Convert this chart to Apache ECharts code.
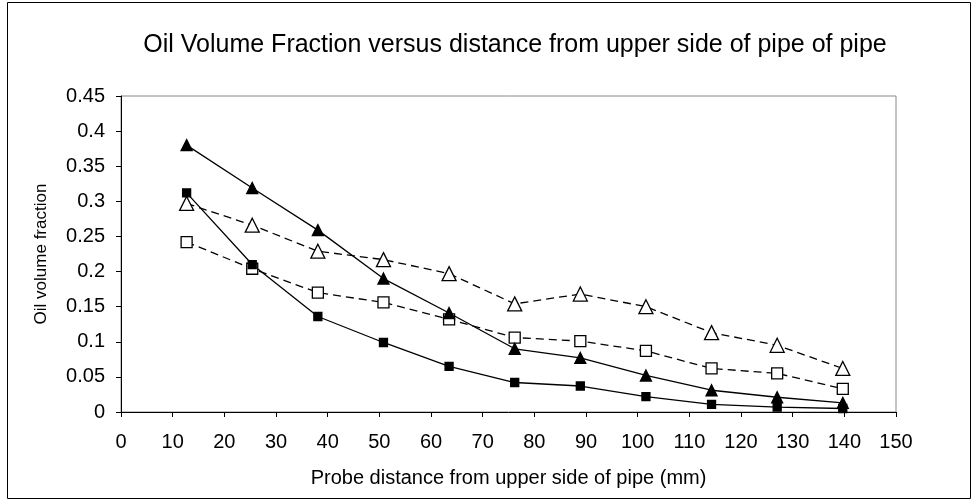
<!DOCTYPE html>
<html>
<head>
<meta charset="utf-8">
<script src="https://cdn.jsdelivr.net/npm/echarts@6/dist/echarts.min.js"></script>
<style>
  html, body { margin: 0; padding: 0; background: #fff; }
  #chart { width: 979px; height: 501px; }
</style>
</head>
<body>
<div id="chart"></div>
<script>
// probe positions (mm)
const distance = [12.7, 25.4, 38.1, 50.8, 63.5, 76.2, 88.9, 101.6, 114.3, 127, 139.7];

// oil volume fraction per series
const solidTriangle = [0.38, 0.319, 0.259, 0.19, 0.141, 0.09, 0.077, 0.052, 0.031, 0.021, 0.013];
const solidSquare = [0.312, 0.21, 0.136, 0.099, 0.065, 0.042, 0.037, 0.022, 0.011, 0.007, 0.005];
const openTriangle = [0.297, 0.266, 0.229, 0.217, 0.197, 0.154, 0.168, 0.15, 0.113, 0.095, 0.062];
const openSquare = [0.242, 0.204, 0.17, 0.156, 0.132, 0.106, 0.101, 0.087, 0.062, 0.055, 0.033];

const pairs = vals => distance.map((d, i) => [d, vals[i]]);

const chart = echarts.init(document.getElementById('chart'));

const makeSeries = (vals, symbol, size, filled, dashed) => ({
  type: 'line',
  data: pairs(vals),
  symbol: symbol,
  symbolSize: size,
  showAllSymbol: true,
  lineStyle: { color: '#000', width: 1.3, type: dashed ? [8, 5] : 'solid' },
  itemStyle: { color: filled ? '#000' : '#fff', borderColor: '#000', borderWidth: 1.3 },
  emphasis: { disabled: true },
  animation: false
});

const font = 'Liberation Sans';

const option = {
  backgroundColor: '#fff',
  title: {
    text: 'Oil Volume Fraction versus distance from upper side of pipe of pipe',
    left: 510,
    top: 28,
    textAlign: 'center',
    textStyle: { fontFamily: font, fontSize: 25, fontWeight: 'normal', color: '#000' }
  },
  graphic: [{
    type: 'rect',
    shape: { x: 7.5, y: 2.5, width: 963, height: 496 },
    style: { fill: 'none', stroke: '#000', lineWidth: 1 },
    silent: true
  }],
  grid: {
    left: 121, top: 96, right: 83, bottom: 89,
    show: true, borderColor: '#888', borderWidth: 1
  },
  xAxis: {
    type: 'value',
    min: 0, max: 150, interval: 10,
    name: 'Probe distance from upper side of pipe (mm)',
    nameLocation: 'middle',
    nameGap: 56,
    nameTextStyle: { fontFamily: font, fontSize: 20, color: '#000' },
    axisLine: { lineStyle: { color: '#000', width: 1 } },
    axisTick: { length: 5, lineStyle: { color: '#000' } },
    axisLabel: { fontFamily: font, fontSize: 20, color: '#000', margin: 20 },
    splitLine: { show: false }
  },
  yAxis: {
    type: 'value',
    min: 0, max: 0.45, interval: 0.05,
    name: 'Oil volume fraction',
    nameLocation: 'middle',
    nameGap: 71,
    nameTextStyle: { fontFamily: font, fontSize: 17, color: '#000' },
    axisLine: { show: true, lineStyle: { color: '#000', width: 1 } },
    axisTick: { show: true, length: 5, lineStyle: { color: '#000' } },
    axisLabel: {
      fontFamily: font, fontSize: 20, color: '#000', margin: 16,
      formatter: v => String(+v.toFixed(2))
    },
    splitLine: { show: false }
  },
  series: [
    makeSeries(openTriangle, 'triangle', 14, false, true),
    makeSeries(openSquare, 'rect', 11, false, true),
    makeSeries(solidTriangle, 'triangle', 11, true, false),
    makeSeries(solidSquare, 'rect', 8, true, false)
  ]
};

chart.setOption(option);
</script>
</body>
</html>
